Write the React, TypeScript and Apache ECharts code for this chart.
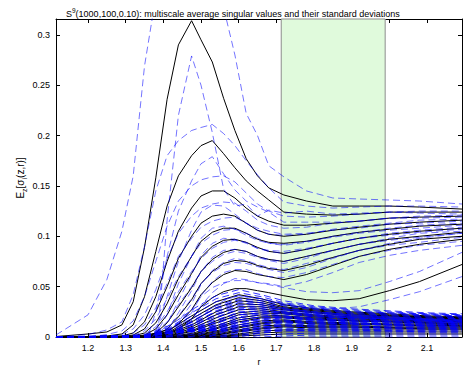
import React, { useEffect, useRef } from "react";
import * as echarts from "echarts";

const X_MIN = 1.115;
const X_MAX = 2.193;
const Y_MAX = 0.3157;
const X_TICKS = [1.2, 1.3, 1.4, 1.5, 1.6, 1.7, 1.8, 1.9, 2, 2.1];
const Y_TICKS = [0, 0.05, 0.1, 0.15, 0.2, 0.25, 0.3];
const SHADED_R = [1.713, 1.989];

// scale grid for the ten leading singular values
const R = [1.115, 1.2, 1.25, 1.29, 1.32, 1.35, 1.38, 1.41, 1.44, 1.475, 1.5, 1.53, 1.56, 1.59, 1.62, 1.65, 1.68, 1.72, 1.78, 1.85, 1.92, 2.0, 2.08, 2.193];

const MEAN_1 = [0.0005, 0.003, 0.005, 0.012, 0.035, 0.089, 0.158, 0.236, 0.29, 0.314, 0.295, 0.273, 0.237, 0.205, 0.177, 0.16, 0.148, 0.141, 0.135, 0.13, 0.13, 0.13, 0.129, 0.127];
const MEAN_2 = [0, 0.0005, 0.001, 0.003, 0.012, 0.04, 0.085, 0.13, 0.16, 0.18, 0.19, 0.195, 0.182, 0.168, 0.155, 0.145, 0.136, 0.124, 0.122, 0.121, 0.122, 0.124, 0.124, 0.124];
const MEAN_3 = [0, 0, 0.0005, 0.001, 0.004, 0.015, 0.04, 0.075, 0.105, 0.128, 0.14, 0.145, 0.145, 0.138, 0.128, 0.12, 0.115, 0.111, 0.111, 0.113, 0.115, 0.118, 0.119, 0.12];
const MEAN_4 = [0, 0, 0, 0.0005, 0.002, 0.008, 0.025, 0.05, 0.078, 0.1, 0.113, 0.12, 0.122, 0.12, 0.113, 0.106, 0.102, 0.1, 0.102, 0.106, 0.109, 0.112, 0.114, 0.116];
const MEAN_5 = [0, 0, 0, 0, 0.001, 0.004, 0.014, 0.033, 0.058, 0.08, 0.095, 0.104, 0.108, 0.108, 0.103, 0.097, 0.094, 0.093, 0.095, 0.1, 0.104, 0.107, 0.11, 0.112];
const MEAN_6 = [0, 0, 0, 0, 0.0005, 0.002, 0.008, 0.022, 0.042, 0.063, 0.079, 0.09, 0.096, 0.097, 0.094, 0.089, 0.085, 0.083, 0.087, 0.093, 0.098, 0.102, 0.105, 0.108];
const MEAN_7 = [0, 0, 0, 0, 0, 0.001, 0.004, 0.014, 0.03, 0.049, 0.065, 0.077, 0.084, 0.087, 0.085, 0.08, 0.077, 0.075, 0.08, 0.086, 0.092, 0.097, 0.1, 0.104];
const MEAN_8 = [0, 0, 0, 0, 0, 0.0005, 0.002, 0.008, 0.02, 0.037, 0.053, 0.065, 0.073, 0.076, 0.075, 0.071, 0.068, 0.066, 0.071, 0.079, 0.086, 0.092, 0.097, 0.1];
const MEAN_9 = [0, 0, 0, 0, 0, 0, 0.001, 0.005, 0.013, 0.027, 0.042, 0.054, 0.062, 0.066, 0.065, 0.062, 0.06, 0.057, 0.062, 0.071, 0.08, 0.087, 0.092, 0.097];
const MEAN_10 = [0, 0, 0, 0, 0, 0, 0.0005, 0.003, 0.008, 0.018, 0.03, 0.039, 0.045, 0.048, 0.048, 0.046, 0.044, 0.041, 0.037, 0.036, 0.038, 0.046, 0.055, 0.072];

const STD_1 = [0.0015, 0.019, 0.052, 0.093, 0.125, 0.18, 0.18, 0.12, 0.07, 0.035, 0.045, 0.07, 0.09, 0.075, 0.045, 0.04, 0.022, 0.018, 0.01, 0.008, 0.007, 0.006, 0.006, 0.005];
const STD_2 = [0, 0.002, 0.006, 0.012, 0.03, 0.05, 0.06, 0.05, 0.035, 0.025, 0.018, 0.016, 0.02, 0.022, 0.02, 0.016, 0.012, 0.01, 0.008, 0.007, 0.007, 0.006, 0.006, 0.005];
const STD_3 = [0, 0, 0.002, 0.005, 0.012, 0.025, 0.035, 0.035, 0.03, 0.022, 0.016, 0.014, 0.015, 0.016, 0.015, 0.012, 0.01, 0.009, 0.008, 0.007, 0.007, 0.006, 0.006, 0.005];
const STD_4 = [0, 0, 0, 0.002, 0.006, 0.014, 0.022, 0.028, 0.025, 0.02, 0.015, 0.012, 0.012, 0.013, 0.012, 0.01, 0.009, 0.008, 0.007, 0.007, 0.006, 0.006, 0.006, 0.005];
const STD_5 = [0, 0, 0, 0, 0.003, 0.008, 0.015, 0.02, 0.022, 0.018, 0.014, 0.011, 0.01, 0.011, 0.01, 0.009, 0.008, 0.008, 0.007, 0.007, 0.006, 0.006, 0.006, 0.005];
const STD_6 = [0, 0, 0, 0, 0.001, 0.004, 0.01, 0.016, 0.018, 0.017, 0.014, 0.011, 0.01, 0.01, 0.009, 0.009, 0.008, 0.008, 0.007, 0.007, 0.006, 0.006, 0.006, 0.005];
const STD_7 = [0, 0, 0, 0, 0, 0.002, 0.006, 0.011, 0.015, 0.016, 0.013, 0.011, 0.01, 0.009, 0.009, 0.008, 0.008, 0.008, 0.007, 0.007, 0.006, 0.006, 0.006, 0.005];
const STD_8 = [0, 0, 0, 0, 0, 0.001, 0.003, 0.007, 0.012, 0.013, 0.012, 0.01, 0.009, 0.009, 0.008, 0.008, 0.008, 0.007, 0.007, 0.007, 0.006, 0.006, 0.006, 0.005];
const STD_9 = [0, 0, 0, 0, 0, 0, 0.002, 0.005, 0.008, 0.011, 0.011, 0.01, 0.009, 0.008, 0.008, 0.008, 0.007, 0.007, 0.007, 0.007, 0.006, 0.006, 0.006, 0.006];
const STD_10 = [0, 0, 0, 0, 0, 0, 0.001, 0.003, 0.006, 0.009, 0.01, 0.01, 0.009, 0.008, 0.008, 0.008, 0.008, 0.008, 0.008, 0.008, 0.008, 0.009, 0.01, 0.012];

// coarser scale grid for the noise singular values
const NR = [1.115, 1.35, 1.42, 1.48, 1.54, 1.6, 1.66, 1.72, 1.8, 1.9, 2.0, 2.1, 2.193];
const NOISE_1 = [0, 0.001, 0.008, 0.022, 0.035, 0.042, 0.038, 0.032, 0.028, 0.025, 0.023, 0.021, 0.02];
const NOISE_2 = [0, 0.0008, 0.006, 0.019, 0.032, 0.039, 0.036, 0.03, 0.027, 0.024, 0.022, 0.02, 0.019];
const NOISE_3 = [0, 0.0005, 0.005, 0.016, 0.029, 0.036, 0.034, 0.029, 0.026, 0.023, 0.021, 0.02, 0.019];
const NOISE_4 = [0, 0, 0.004, 0.013, 0.025, 0.033, 0.032, 0.028, 0.025, 0.022, 0.021, 0.019, 0.018];
const NOISE_5 = [0, 0, 0.003, 0.011, 0.022, 0.03, 0.03, 0.027, 0.024, 0.021, 0.02, 0.019, 0.018];
const NOISE_6 = [0, 0, 0.002, 0.009, 0.019, 0.027, 0.028, 0.025, 0.022, 0.02, 0.019, 0.018, 0.017];
const NOISE_7 = [0, 0, 0.0015, 0.007, 0.016, 0.024, 0.026, 0.024, 0.021, 0.019, 0.018, 0.017, 0.016];
const NOISE_8 = [0, 0, 0.001, 0.006, 0.014, 0.022, 0.024, 0.023, 0.02, 0.018, 0.017, 0.016, 0.015];
const NOISE_9 = [0, 0, 0.0005, 0.004, 0.011, 0.019, 0.022, 0.021, 0.019, 0.017, 0.016, 0.015, 0.015];
const NOISE_10 = [0, 0, 0, 0.003, 0.009, 0.017, 0.02, 0.02, 0.018, 0.016, 0.015, 0.014, 0.014];
const NOISE_11 = [0, 0, 0, 0.0025, 0.008, 0.015, 0.019, 0.019, 0.017, 0.016, 0.015, 0.014, 0.013];
const NOISE_12 = [0, 0, 0, 0.002, 0.006, 0.012, 0.016, 0.017, 0.015, 0.014, 0.013, 0.013, 0.012];
const NOISE_13 = [0, 0, 0, 0.0015, 0.005, 0.01, 0.014, 0.016, 0.014, 0.013, 0.012, 0.012, 0.011];
const NOISE_14 = [0, 0, 0, 0.001, 0.004, 0.009, 0.013, 0.015, 0.013, 0.012, 0.012, 0.011, 0.011];
const NOISE_15 = [0, 0, 0, 0.0005, 0.003, 0.007, 0.011, 0.012, 0.011, 0.011, 0.01, 0.01, 0.01];
const NOISE_16 = [0, 0, 0, 0, 0.002, 0.006, 0.009, 0.011, 0.01, 0.01, 0.009, 0.009, 0.009];
const NOISE_17 = [0, 0, 0, 0, 0.002, 0.005, 0.008, 0.01, 0.009, 0.009, 0.009, 0.008, 0.008];
const NOISE_18 = [0, 0, 0, 0, 0.001, 0.003, 0.006, 0.007, 0.007, 0.007, 0.007, 0.007, 0.007];
const NOISE_19 = [0, 0, 0, 0, 0.0005, 0.002, 0.004, 0.005, 0.005, 0.005, 0.005, 0.005, 0.005];
const NOISE_20 = [0, 0, 0, 0, 0, 0.001, 0.002, 0.003, 0.003, 0.003, 0.003, 0.003, 0.003];
const NOISE_STD = [0, 0.001, 0.004, 0.006, 0.006, 0.005, 0.004, 0.004, 0.003, 0.003, 0.003, 0.003, 0.003];

const MEANS = [MEAN_1, MEAN_2, MEAN_3, MEAN_4, MEAN_5, MEAN_6, MEAN_7, MEAN_8, MEAN_9, MEAN_10];
const STDS = [STD_1, STD_2, STD_3, STD_4, STD_5, STD_6, STD_7, STD_8, STD_9, STD_10];
const NOISE = [NOISE_1, NOISE_2, NOISE_3, NOISE_4, NOISE_5, NOISE_6, NOISE_7, NOISE_8, NOISE_9, NOISE_10,
  NOISE_11, NOISE_12, NOISE_13, NOISE_14, NOISE_15, NOISE_16, NOISE_17, NOISE_18, NOISE_19, NOISE_20];

const FONT = "Liberation Sans";

export default function App() {
  const ref = useRef<HTMLDivElement>(null);
  useEffect(() => {
    if (!ref.current) return;
    const chart = echarts.init(ref.current, undefined, { renderer: "svg" });
    const pts = (xs: number[], ys: number[]) => xs.map((x, i) => [x, ys[i]]);
    const black = (data: number[][]) => ({
      type: "line", data, symbol: "none", silent: true, z: 3,
      lineStyle: { color: "#000", width: 1 },
    });
    const dashed = (data: number[][], alpha: number) => ({
      type: "line", data, symbol: "none", silent: true, z: 4,
      lineStyle: { color: `rgba(0,0,255,${alpha})`, width: 1, type: [7, 4] },
    });
    const series: any[] = [];
    series.push({
      type: "line", data: [], symbol: "none", silent: true, z: 1,
      markArea: {
        silent: true,
        itemStyle: { color: "#e0fadc", borderColor: "#8c8c8c", borderWidth: 1 },
        data: [[{ xAxis: SHADED_R[0] }, { xAxis: SHADED_R[1] }]],
      },
    });
    MEANS.forEach((m) => series.push(black(pts(R, m))));
    NOISE.forEach((m) => series.push(black(pts(NR, m))));
    MEANS.forEach((m, k) => {
      series.push(dashed(pts(R, m.map((v, i) => v + STDS[k][i])), 0.55));
      series.push(dashed(pts(R, m.map((v, i) => v - STDS[k][i])), 0.55));
    });
    NOISE.forEach((m) => {
      series.push(dashed(pts(NR, m.map((v, i) => v + NOISE_STD[i])), 0.8));
      series.push(dashed(pts(NR, m.map((v, i) => v - NOISE_STD[i])), 0.8));
    });
    const lbl = { color: "#000", fontSize: 9, fontFamily: FONT };
    chart.setOption({
      animation: false,
      title: {
        text: "{a|S}{sup|9}{a|(1000,100,0.10): multiscale average singular values and their standard deviations}",
        left: 61, top: 2,
        textStyle: {
          fontWeight: "normal",
          rich: {
            a: { fontSize: 9, fontFamily: FONT, fontWeight: "normal", color: "#000", lineHeight: 11, verticalAlign: "bottom" },
            sup: { fontSize: 6.5, fontFamily: FONT, fontWeight: "normal", color: "#000", lineHeight: 11, verticalAlign: "top" },
          },
        },
      },
      grid: { left: 56, right: 1, top: 19, bottom: 31 },
      xAxis: [
        {
          type: "value", min: X_MIN, max: X_MAX, position: "bottom",
          axisLine: { show: true, onZero: false, lineStyle: { color: "#000", width: 1 } },
          axisTick: { show: true, inside: true, length: 4, customValues: X_TICKS, lineStyle: { color: "#000" } },
          axisLabel: { ...lbl, customValues: X_TICKS, margin: 6, formatter: (v: number) => String(v) },
          splitLine: { show: false },
          name: "r", nameLocation: "middle", nameGap: 20,
          nameTextStyle: { ...lbl },
        },
        {
          type: "value", min: X_MIN, max: X_MAX, position: "top",
          axisLine: { show: true, onZero: false, lineStyle: { color: "#000", width: 1 } },
          axisTick: { show: true, inside: true, length: 4, customValues: X_TICKS, lineStyle: { color: "#000" } },
          axisLabel: { show: false },
          splitLine: { show: false },
        },
      ],
      yAxis: [
        {
          type: "value", min: 0, max: Y_MAX, position: "left",
          axisLine: { show: true, onZero: false, lineStyle: { color: "#000", width: 1 } },
          axisTick: { show: true, inside: true, length: 4, customValues: Y_TICKS, lineStyle: { color: "#000" } },
          axisLabel: { ...lbl, customValues: Y_TICKS, margin: 6, formatter: (v: number) => String(v) },
          splitLine: { show: false },
          name: "{a|E}{s|z}{a|[σ}{s|i}{a|(z,r)]}",
          nameLocation: "middle", nameGap: 28, nameRotate: 90, nameMoveOverlap: false,
          nameTextStyle: {
            rich: {
              a: { fontSize: 10, fontFamily: FONT, color: "#000", lineHeight: 13, verticalAlign: "top" },
              s: { fontSize: 7, fontFamily: FONT, color: "#000", lineHeight: 13, verticalAlign: "bottom" },
            },
          },
        },
        {
          type: "value", min: 0, max: Y_MAX, position: "right",
          axisLine: { show: true, onZero: false, lineStyle: { color: "#000", width: 1 } },
          axisTick: { show: true, inside: true, length: 4, customValues: Y_TICKS, lineStyle: { color: "#000" } },
          axisLabel: { show: false },
          splitLine: { show: false },
        },
      ],
      series,
    });
    return () => chart.dispose();
  }, []);
  return (
    <div
      ref={ref}
      style={{ position: "fixed", left: 0, top: 0, width: 463, height: 371, background: "#fff" }}
    />
  );
}
